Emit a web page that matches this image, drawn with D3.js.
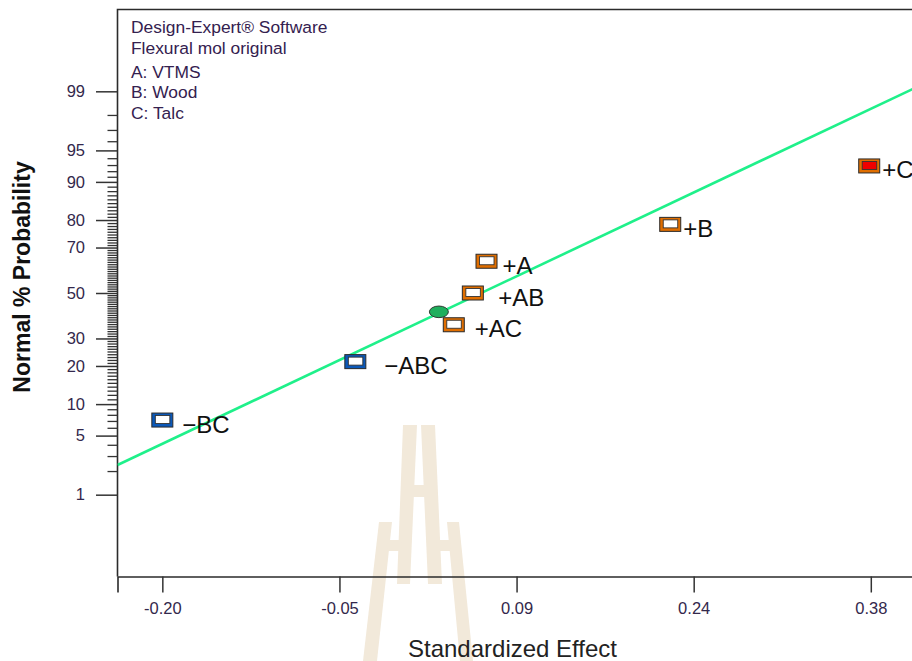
<!DOCTYPE html>
<html>
<head>
<meta charset="utf-8">
<script src="https://cdn.jsdelivr.net/npm/d3@7"></script>
<style>
  html, body { margin: 0; padding: 0; background: #fff; }
  svg { display: block; }
  text { font-family: Arial, "Liberation Sans", sans-serif; }
</style>
</head>
<body>
<svg id="chart" width="912" height="661"></svg>
<script>
// ---- Effects (ranked), normal % probability and fitted normal line ----
const effectTerms   = ["−BC", "−ABC", "+AC", "+AB", "+A", "+B", "+C"];
const effectValues  = [-0.200, -0.042, 0.0386, 0.0542, 0.0654, 0.2158, 0.3787];
const effectProbs   = [7.14, 21.43, 35.71, 50.00, 64.29, 78.57, 92.86];
const effectSigns   = ["neg", "neg", "pos", "pos", "pos", "pos", "pos"];
const significant   = ["+C"];

const errorEffect = [0.0264];
const errorProb   = [41.4];

const fitMean = 0.0611;
const fitSd   = 0.1501;

// ---- Axis ticks ----
const xTickValues = [-0.20, -0.055, 0.09, 0.235, 0.38];
const xTickLabels = ["-0.20", "-0.05", "0.09", "0.24", "0.38"];
const yMajorProbs = [1, 5, 10, 20, 30, 50, 70, 80, 90, 95, 99];
const yMinorProbs = d3.range(2, 99).filter(p => !yMajorProbs.includes(p));

const headerLines = ["Design-Expert® Software", "Flexural mol original"];
const factorLines = ["A: VTMS", "B: Wood", "C: Talc"];

// ---- Layout ----
const plot = { left: 117.5, right: 916, top: 9.5, bottom: 576.5 };
const zLimit = 3.27;

// inverse standard normal CDF (Acklam's rational approximation)
function probit(p) {
  const a = [-3.969683028665376e+01, 2.209460984245205e+02, -2.759285104469687e+02,
             1.383577518672690e+02, -3.066479806614716e+01, 2.506628277459239e+00];
  const b = [-5.447609879822406e+01, 1.615858368580409e+02, -1.556989798598866e+02,
             6.680131188771972e+01, -1.328068155288572e+01];
  const c = [-7.784894002430293e-03, -3.223964580411365e-01, -2.400758277161838e+00,
             -2.549671348880280e+00, 4.374664141464968e+00, 2.938163982698783e+00];
  const d = [7.784695709041462e-03, 3.224671290700398e-01, 2.445134137142996e+00,
             3.754408661907416e+00];
  const pl = 0.02425, ph = 1 - pl;
  let q, r;
  if (p < pl) {
    q = Math.sqrt(-2 * Math.log(p));
    return (((((c[0]*q+c[1])*q+c[2])*q+c[3])*q+c[4])*q+c[5]) /
           ((((d[0]*q+d[1])*q+d[2])*q+d[3])*q+1);
  }
  if (p > ph) {
    q = Math.sqrt(-2 * Math.log(1 - p));
    return -(((((c[0]*q+c[1])*q+c[2])*q+c[3])*q+c[4])*q+c[5]) /
            ((((d[0]*q+d[1])*q+d[2])*q+d[3])*q+1);
  }
  q = p - 0.5; r = q * q;
  return (((((a[0]*r+a[1])*r+a[2])*r+a[3])*r+a[4])*r+a[5]) * q /
         (((((b[0]*r+b[1])*r+b[2])*r+b[3])*r+b[4])*r+1);
}

const svg = d3.select("#chart");

const x = d3.scaleLinear().domain([-0.2367, 0.4170]).range([plot.left, plot.right]);
const yz = d3.scaleLinear().domain([-zLimit, zLimit]).range([plot.bottom, plot.top]);
const yP = p => yz(probit(p / 100));

// ---- faint emblem in the background ----
const emblem = svg.append("g").attr("fill", "#f2e9da");
const emblemShapes = [
  [[403,425],[417,425],[410,584],[397,584]],
  [[421,425],[435,425],[442,584],[428,584]],
  [[408,485],[430,485],[432,497],[406,497]],
  [[379,522],[392,522],[377,661],[363,661]],
  [[447,522],[459,522],[473,661],[460,661]],
  [[388,540],[402,540],[401,551],[387,551]],
  [[436,540],[450,540],[451,551],[437,551]]
];
emblem.selectAll("polygon").data(emblemShapes).join("polygon")
  .attr("points", d => d.map(p => p.join(",")).join(" "));

// ---- plot frame ----
svg.append("defs").append("clipPath").attr("id", "plotClip")
  .append("rect")
  .attr("x", plot.left).attr("y", plot.top)
  .attr("width", plot.right - plot.left).attr("height", plot.bottom - plot.top);

svg.append("path")
  .attr("d", `M${plot.left},${plot.bottom}V${plot.top}H${plot.right}`)
  .attr("fill", "none").attr("stroke", "#2b2b2b").attr("stroke-width", 1.6);

// ---- y axis (normal probability scale) ----
const tickColor = "#33284c";
const yMinorAxis = d3.axisLeft(yz)
  .tickValues(yMinorProbs.map(p => probit(p / 100)))
  .tickSize(10).tickFormat("");
const yMajorAxis = d3.axisLeft(yz)
  .tickValues(yMajorProbs.map(p => probit(p / 100)))
  .tickSize(21.5).tickPadding(11)
  .tickFormat((d, i) => String(yMajorProbs[i]));

svg.append("g").attr("transform", `translate(${plot.left},0)`).call(yMinorAxis)
  .call(g => g.select(".domain").remove())
  .call(g => g.selectAll("line").attr("stroke", "#333").attr("stroke-width", 1.3));
svg.append("g").attr("transform", `translate(${plot.left},0)`).call(yMajorAxis)
  .call(g => g.select(".domain").remove())
  .call(g => g.selectAll("line").attr("stroke", "#333").attr("stroke-width", 1.5))
  .call(g => g.selectAll("text")
    .attr("font-size", 16.5).attr("fill", tickColor)
    .attr("font-family", "Arial, 'Liberation Sans', sans-serif"));

// ---- x axis ----
const xAxis = d3.axisBottom(x)
  .tickValues(xTickValues).tickSize(16).tickPadding(10)
  .tickFormat((d, i) => xTickLabels[i]);
svg.append("g").attr("transform", `translate(0,${plot.bottom})`).call(xAxis)
  .call(g => g.select(".domain").attr("stroke", "#2b2b2b").attr("stroke-width", 1.6))
  .call(g => g.selectAll(".tick line").attr("stroke", "#333").attr("stroke-width", 1.5))
  .call(g => g.selectAll("text")
    .attr("font-size", 16.5).attr("fill", tickColor)
    .attr("font-family", "Arial, 'Liberation Sans', sans-serif"));

// ---- axis titles ----
svg.append("text")
  .attr("x", 512.5).attr("y", 657)
  .attr("text-anchor", "middle")
  .attr("font-size", 24).attr("fill", "#222")
  .text("Standardized Effect");

svg.append("text")
  .attr("transform", "translate(30,277) rotate(-90)")
  .attr("text-anchor", "middle")
  .attr("font-size", 23).attr("font-weight", "bold").attr("fill", "#111")
  .text("Normal % Probability");

// ---- header notes ----
const headerColor = "#34214f";
const header = svg.append("g").attr("font-size", 17.4).attr("fill", headerColor);
header.selectAll("text.h").data(headerLines).join("text").attr("class", "h")
  .attr("x", 131).attr("y", (d, i) => 33 + i * 20.5).text(d => d);
header.selectAll("text.f").data(factorLines).join("text").attr("class", "f")
  .attr("x", 131).attr("y", (d, i) => 77.5 + i * 20.5).text(d => d);

// ---- fitted normal line ----
const plotArea = svg.append("g").attr("clip-path", "url(#plotClip)");
const lineEnds = x.domain();
plotArea.append("path")
  .datum(lineEnds)
  .attr("d", d3.line().x(v => x(v)).y(v => yz((v - fitMean) / fitSd)))
  .attr("fill", "none").attr("stroke", "#1ff08a").attr("stroke-width", 2.6);

// ---- error estimate marker ----
svg.selectAll("ellipse.err").data(errorEffect).join("ellipse").attr("class", "err")
  .attr("cx", d => x(d)).attr("cy", (d, i) => yP(errorProb[i]))
  .attr("rx", 9.5).attr("ry", 5.8)
  .attr("fill", "#1fae5c").attr("stroke", "#2c3a30").attr("stroke-width", 1);

// ---- effect markers ----
const signColor = { pos: "#e06e00", neg: "#0b58b8" };
const labelDx = { "−BC": 20, "−ABC": 29, "+AC": 21, "+AB": 25.5, "+A": 16, "+B": 13, "+C": 13 };

const effects = effectTerms.map((t, i) => ({
  term: t, value: effectValues[i], prob: effectProbs[i], sign: effectSigns[i]
}));

const marks = svg.selectAll("g.effect").data(effects).join("g").attr("class", "effect")
  .attr("transform", d => `translate(${x(d.value)},${yP(d.prob)})`);

marks.append("rect")
  .attr("x", -10.5).attr("y", -7).attr("width", 21).attr("height", 14)
  .attr("fill", d => signColor[d.sign]).attr("stroke", "#2a2a2a").attr("stroke-width", 1);
marks.append("rect")
  .attr("x", -7).attr("y", -4.5).attr("width", 14.5).attr("height", 8)
  .attr("fill", d => significant.includes(d.term) ? "#f00000" : "#fff")
  .attr("stroke", "#333").attr("stroke-width", 0.9);

marks.append("text")
  .attr("x", d => labelDx[d.term]).attr("y", 12.5)
  .attr("font-size", 24).attr("fill", "#111")
  .text(d => d.term);
</script>
</body>
</html>
